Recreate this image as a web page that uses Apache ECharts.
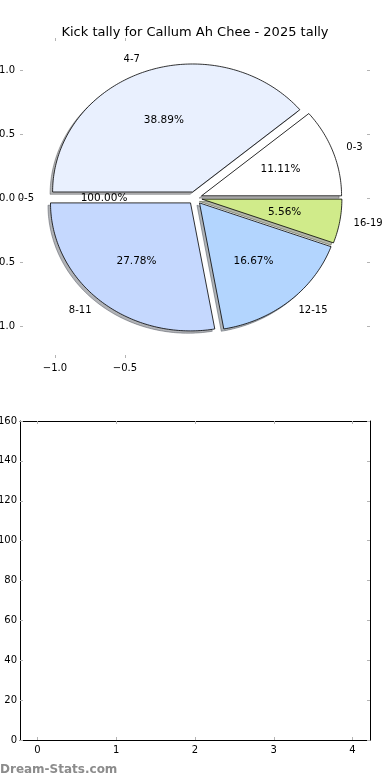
<!DOCTYPE html>
<html><head><meta charset="utf-8">
<script src="https://cdn.jsdelivr.net/npm/echarts@6/dist/echarts.min.js"></script>
<style>html,body{margin:0;padding:0;background:#fff}#c{width:390px;height:780px}</style>
</head><body><div id="c"></div><script>
const titleText = 'Kick tally for Callum Ah Chee - 2025 tally';
const sliceLabels = ['0-3', '4-7', '8-11', '12-15', '16-19'];
const sliceValues = [2, 7, 5, 3, 1];
const sliceColors = ['#ffffff', '#e9f0fe', '#c5d8fe', '#b3d5fe', '#d0eb8a'];
const ghostLabels = ['0-5'];
const ghostValues = [1];
const pieXTicks = [-1.0, -0.5];
const pieYTicks = [-1.0, -0.5, 0.0, 0.5, 1.0];
const barXTicks = [0, 1, 2, 3, 4];
const barYTicks = [0, 20, 40, 60, 80, 100, 120, 140, 160];
const barValues = [];
const watermark = 'Dream-Stats.com';

const EXPLODE = 0.05, LABEL_D = 1.1, PCT_D = 0.6, SH_OX = -0.018, SH_OY = -0.018;
const FONT = 'DejaVu Sans';
const FS = 10, FS_PCT = 10.5;

function geom(values, i) {
  const total = values.reduce((a, b) => a + b, 0);
  let s = 0; for (let k = 0; k < i; k++) s += values[k];
  const a1 = s / total * 360, a2 = (s + values[i]) / total * 360;
  const am = (a1 + a2) / 2 * Math.PI / 180;
  return { a1, a2, am, cx: EXPLODE * Math.cos(am), cy: EXPLODE * Math.sin(am), frac: values[i] / total };
}
function wedgePts(api, g, dx, dy) {
  const pts = [api.coord([g.cx + dx, g.cy + dy])];
  const n = Math.max(4, Math.ceil(g.a2 - g.a1));
  for (let j = 0; j <= n; j++) {
    const a = (g.a1 + (g.a2 - g.a1) * j / n) * Math.PI / 180;
    pts.push(api.coord([g.cx + dx + Math.cos(a), g.cy + dy + Math.sin(a)]));
  }
  return pts;
}
function shadeColor(hex, k, alpha) {
  const r = parseInt(hex.slice(1, 3), 16), g = parseInt(hex.slice(3, 5), 16), b = parseInt(hex.slice(5, 7), 16);
  return 'rgba(' + Math.round(r * k) + ',' + Math.round(g * k) + ',' + Math.round(b * k) + ',' + alpha + ')';
}
function labelGroup(api, values, labels, i) {
  const g = geom(values, i);
  const lx = g.cx + LABEL_D * Math.cos(g.am), ly = g.cy + LABEL_D * Math.sin(g.am);
  const px = g.cx + PCT_D * Math.cos(g.am), py = g.cy + PCT_D * Math.sin(g.am);
  const lp = api.coord([lx, ly]), pp = api.coord([px, py]);
  return {
    type: 'group', children: [
      { type: 'text', x: lp[0], y: lp[1], style: { text: labels[i], fill: '#000', fontSize: FS, fontFamily: FONT, align: lx > 0 ? 'left' : 'right', verticalAlign: 'middle' } },
      { type: 'text', x: pp[0], y: pp[1], style: { text: (g.frac * 100).toFixed(2) + '%', fill: '#000', fontSize: FS_PCT, fontFamily: FONT, align: 'center', verticalAlign: 'middle' } }
    ]
  };
}
const fmt1 = v => (v < 0 ? '\u2212' : '') + Math.abs(v).toFixed(1);
const fmt0 = v => (v < 0 ? '\u2212' : '') + Math.abs(v).toFixed(0);
const tickStyle = { show: true, inside: true, length: 3, lineStyle: { color: '#b4b4b4', width: 1 } };
const lbl = { fontSize: FS, fontFamily: FONT, color: '#000' };

const chart = echarts.init(document.getElementById('c'), null, { renderer: 'canvas' });
chart.setOption({
  animation: false,
  backgroundColor: '#fff',
  title: { text: titleText, left: 'center', top: 21, textStyle: { fontSize: 13, fontWeight: 'normal', fontFamily: FONT, color: '#000' } },
  grid: [
    { left: 20, top: 38, width: 350, height: 320, containLabel: false, outerBoundsMode: 'none' },
    { left: 20, top: 421, width: 350, height: 319, containLabel: false, outerBoundsMode: 'none' }
  ],
  xAxis: [
    { gridIndex: 0, type: 'value', min: -1.25, max: 1.25, position: 'bottom', axisLine: { show: false, onZero: false }, splitLine: { show: false },
      axisTick: Object.assign({ customValues: pieXTicks }, tickStyle), axisLabel: Object.assign({ customValues: pieXTicks, formatter: fmt1, margin: 5 }, lbl) },
    { gridIndex: 0, type: 'value', min: -1.25, max: 1.25, position: 'top', axisLine: { show: false, onZero: false }, splitLine: { show: false },
      axisTick: Object.assign({ customValues: pieXTicks }, tickStyle), axisLabel: { show: false } },
    { gridIndex: 1, type: 'value', min: -0.222, max: 4.222, position: 'bottom', axisLine: { show: true, onZero: false, lineStyle: { color: '#000', width: 1 } }, splitLine: { show: false },
      axisTick: Object.assign({ customValues: barXTicks }, tickStyle), axisLabel: Object.assign({ customValues: barXTicks, formatter: fmt0, margin: 5 }, lbl) },
    { gridIndex: 1, type: 'value', min: -0.222, max: 4.222, position: 'top', axisLine: { show: true, onZero: false, lineStyle: { color: '#000', width: 1 } }, splitLine: { show: false },
      axisTick: Object.assign({ customValues: barXTicks }, tickStyle), axisLabel: { show: false } }
  ],
  yAxis: [
    { gridIndex: 0, type: 'value', min: -1.25, max: 1.25, position: 'left', axisLine: { show: false, onZero: false }, splitLine: { show: false },
      axisTick: Object.assign({ customValues: pieYTicks }, tickStyle), axisLabel: Object.assign({ customValues: pieYTicks, formatter: fmt1, margin: 5 }, lbl) },
    { gridIndex: 0, type: 'value', min: -1.25, max: 1.25, position: 'right', axisLine: { show: false, onZero: false }, splitLine: { show: false },
      axisTick: Object.assign({ customValues: pieYTicks }, tickStyle), axisLabel: { show: false } },
    { gridIndex: 1, type: 'value', min: 0, max: 160, position: 'left', axisLine: { show: true, onZero: false, lineStyle: { color: '#000', width: 1 } }, splitLine: { show: false },
      axisTick: Object.assign({ customValues: barYTicks }, tickStyle), axisLabel: Object.assign({ customValues: barYTicks, formatter: fmt0, margin: 3 }, lbl) },
    { gridIndex: 1, type: 'value', min: 0, max: 160, position: 'right', axisLine: { show: true, onZero: false, lineStyle: { color: '#000', width: 1 } }, splitLine: { show: false },
      axisTick: Object.assign({ customValues: barYTicks }, tickStyle), axisLabel: { show: false } }
  ],
  graphic: [
    { type: 'text', left: 0, top: 764, style: { text: watermark, fill: '#8c8c8c', fontSize: 12, fontWeight: 'bold', fontFamily: FONT } }
  ],
  series: [
    { type: 'custom', name: 'shadow', xAxisIndex: 0, yAxisIndex: 0, z: 1, silent: true,
      data: sliceValues.map(() => [0, 0]),
      renderItem: (params, api) => {
        const i = params.dataIndex, g = geom(sliceValues, i);
        return { type: 'polygon', shape: { points: wedgePts(api, g, SH_OX, SH_OY) }, style: { fill: shadeColor(sliceColors[i], 0.3, 0.4), stroke: shadeColor(sliceColors[i], 0.3, 0.55), lineWidth: 0.8 } };
      } },
    { type: 'custom', name: 'wedges', xAxisIndex: 0, yAxisIndex: 0, z: 2, silent: true,
      data: sliceValues.map(() => [0, 0]),
      renderItem: (params, api) => {
        const i = params.dataIndex, g = geom(sliceValues, i);
        return { type: 'polygon', shape: { points: wedgePts(api, g, 0, 0) }, style: { fill: sliceColors[i], stroke: '#000', lineWidth: 0.8 } };
      } },
    { type: 'custom', name: 'labels', xAxisIndex: 0, yAxisIndex: 0, z: 3, silent: true,
      data: sliceValues.map(() => [0, 0]),
      renderItem: (params, api) => labelGroup(api, sliceValues, sliceLabels, params.dataIndex) },
    { type: 'custom', name: 'ghost', xAxisIndex: 0, yAxisIndex: 0, z: 3, silent: true,
      data: ghostValues.map(() => [0, 0]),
      renderItem: (params, api) => labelGroup(api, ghostValues, ghostLabels, params.dataIndex) },
    { type: 'bar', xAxisIndex: 2, yAxisIndex: 2, data: barValues }
  ]
});
</script></body></html>
